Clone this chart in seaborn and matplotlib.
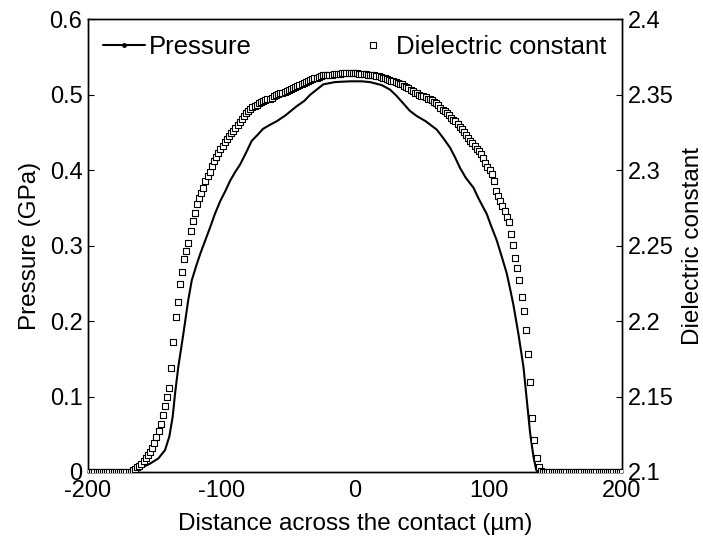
import matplotlib
matplotlib.use("Agg")
import matplotlib.pyplot as plt
from matplotlib.lines import Line2D
import numpy as np
import seaborn as sns

# Pressure profile across the contact (um, GPa)
pressure_x = [-200, -167.3, -161, -153.6, -147.3, -142.3, -139.1, -136.6, -134.8, -132.4,
              -128.6, -125, -122.3, -119, -116, -112,
              -108.6, -105, -101, -97, -93.6, -90, -86, -82, -77.4, -73,
              -68.9, -63, -58.7, -52, -43.7, -38, -33.7, -28, -23.7, -15,
              -3.7, 5, 11.2, 20, 26.2, 31, 36, 41, 46.2, 53,
              61.2, 66, 71.2, 75, 78.7, 83, 88.7, 93, 98.7, 102,
              106.2, 110, 113.7, 116.5, 118.6, 122.4, 126.2, 128.7, 131.2, 133.7,
              135.7, 137, 200]
pressure_gpa = [0, 0, 0.005, 0.011, 0.018, 0.029, 0.047, 0.073, 0.104, 0.139,
                0.183, 0.227, 0.254, 0.273, 0.289, 0.308,
                0.324, 0.342, 0.359, 0.373, 0.386, 0.397, 0.408, 0.422, 0.439, 0.447,
                0.455, 0.461, 0.465, 0.473, 0.485, 0.492, 0.500, 0.508, 0.514, 0.517,
                0.518, 0.518, 0.517, 0.513, 0.507, 0.499, 0.489, 0.479, 0.472, 0.465,
                0.454, 0.443, 0.430, 0.417, 0.403, 0.390, 0.377, 0.361, 0.342, 0.326,
                0.307, 0.285, 0.263, 0.240, 0.222, 0.183, 0.139, 0.095, 0.051, 0.020,
                0.003, 0, 0]

# Dielectric constant, one sample every 1.6 um starting at -200 um
dielectric_start = -200
dielectric_step = 1.6
dielectric_left = [2.1] * 20
dielectric_curve = [
    2.1, 2.101, 2.102, 2.103, 2.104, 2.1055, 2.107, 2.109, 2.111, 2.1135,
    2.116, 2.1195, 2.123, 2.127, 2.1315, 2.138, 2.1435, 2.1495, 2.156, 2.169,
    2.186, 2.2025, 2.2125, 2.2245, 2.2325, 2.241, 2.2465, 2.2515, 2.26, 2.2665,
    2.272, 2.2775, 2.2815, 2.285, 2.2885, 2.293, 2.2965, 2.299, 2.303, 2.306,
    2.309, 2.3115, 2.314, 2.316, 2.3185, 2.321, 2.3225, 2.3245, 2.326, 2.328,
    2.33, 2.332, 2.334, 2.336, 2.338, 2.3395, 2.3405, 2.342, 2.3425, 2.3435,
    2.3445, 2.345, 2.346, 2.3465, 2.347, 2.3475, 2.348, 2.349, 2.35, 2.3505,
    2.351, 2.3515, 2.352, 2.3525, 2.353, 2.354, 2.3545, 2.355, 2.356, 2.3565,
    2.3575, 2.358, 2.3585, 2.3595, 2.36, 2.3605, 2.361, 2.3615, 2.362, 2.3625,
    2.363, 2.363, 2.3635, 2.3635, 2.3635, 2.364, 2.364, 2.364, 2.364, 2.3645,
    2.3645, 2.3645, 2.3645, 2.3645, 2.3645, 2.3645, 2.3645, 2.364, 2.364, 2.364,
    2.364, 2.3635, 2.3635, 2.3635, 2.363, 2.3625, 2.3625, 2.362, 2.3615, 2.361,
    2.3605, 2.36, 2.3595, 2.359, 2.3585, 2.358, 2.3575, 2.357, 2.356, 2.3555,
    2.3545, 2.3535, 2.3525, 2.3515, 2.351, 2.35, 2.3495, 2.349, 2.3485, 2.3475,
    2.347, 2.3465, 2.3455, 2.3445, 2.3435, 2.3415, 2.34, 2.339, 2.338, 2.3365,
    2.335, 2.3335, 2.3325, 2.331, 2.329, 2.3275, 2.3255, 2.3235, 2.3215, 2.3195,
    2.318, 2.316, 2.314, 2.3125, 2.3105, 2.308, 2.305, 2.3025, 2.3, 2.2975,
    2.293, 2.2865, 2.283, 2.2795, 2.2765, 2.273, 2.269, 2.2655, 2.258, 2.2505,
    2.242, 2.235, 2.2275, 2.216, 2.2065, 2.194, 2.178, 2.1595, 2.1355, 2.1215,
    2.109, 2.103, 2.1005,
]
dielectric_right = [2.1] * 38

x_ticks = [-200, -100, 0, 100, 200]
p_ticks = [0, 0.1, 0.2, 0.3, 0.4, 0.5, 0.6]
p_labels = ["0", "0.1", "0.2", "0.3", "0.4", "0.5", "0.6"]
d_ticks = [2.1, 2.15, 2.2, 2.25, 2.3, 2.35, 2.4]
d_labels = ["2.1", "2.15", "2.2", "2.25", "2.3", "2.35", "2.4"]

sns.set_theme(style="white")
plt.rcParams["font.family"] = ["Liberation Sans", "DejaVu Sans"]
plt.rcParams["text.color"] = "black"
plt.rcParams["axes.labelcolor"] = "black"
plt.rcParams["xtick.color"] = "black"
plt.rcParams["ytick.color"] = "black"
plt.rcParams["xtick.direction"] = "in"
plt.rcParams["ytick.direction"] = "in"

dielectric = dielectric_left + dielectric_curve + dielectric_right
dielectric_x = dielectric_start + dielectric_step * np.arange(len(dielectric))

fig = plt.figure(figsize=(7.03, 5.38), dpi=100)
ax = fig.add_axes([0.1252, 0.1227, 0.7596, 0.8411])
ax2 = ax.twinx()

sns.lineplot(x=pressure_x, y=pressure_gpa, ax=ax, color="black", linewidth=1.5,
             estimator=None, sort=False)
sns.scatterplot(x=dielectric_x, y=dielectric, ax=ax2, marker="s", s=24,
                facecolor="white", edgecolor="black", linewidth=0.8, zorder=3)

ax.set_xlim(-200, 200)
ax.set_ylim(0, 0.6)
ax2.set_ylim(2.1, 2.4)
ax.set_xticks(x_ticks)
ax.set_xticklabels([str(t) for t in x_ticks])
ax.set_yticks(p_ticks)
ax.set_yticklabels(p_labels)
ax2.set_yticks(d_ticks)
ax2.set_yticklabels(d_labels)

for a in (ax, ax2):
    a.tick_params(axis="y", labelsize=17, length=4, width=0.8, pad=4)
    a.tick_params(axis="x", labelsize=17, length=4, width=0.8, pad=6)
    for s in a.spines.values():
        s.set_color("black")
        s.set_linewidth(1.0)

ax.set_xlabel("Distance across the contact (\u00b5m)", fontsize=17.5, labelpad=8)
ax.set_ylabel("Pressure (GPa)", fontsize=17.5, labelpad=6)
ax2.set_ylabel("Dielectric constant", fontsize=17.5, labelpad=6)

p_handle = Line2D([], [], color="black", linewidth=1.5, marker=".", markersize=5)
d_handle = Line2D([], [], color="black", linestyle="none", marker="s", markersize=4.5,
                  markerfacecolor="white", markeredgewidth=0.8)
ax.legend([p_handle], ["Pressure"], loc="upper left", frameon=False, fontsize=18.5,
          handlelength=1.6, handletextpad=0.15, borderaxespad=0.35, borderpad=0.25)
ax2.legend([d_handle], ["Dielectric constant"], loc="upper right", frameon=False,
           fontsize=18.5, handlelength=1.0, handletextpad=0.4, borderaxespad=0.35,
           borderpad=0.25)

fig.savefig("out.png", dpi=100)
